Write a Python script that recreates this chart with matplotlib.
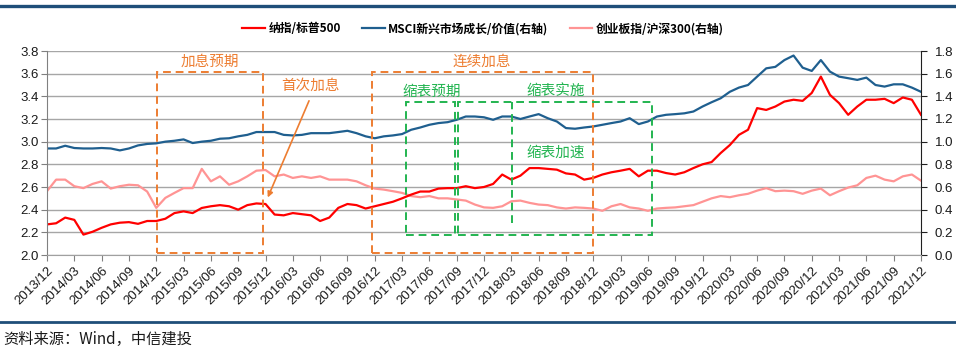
import numpy as np
import matplotlib
matplotlib.use('Agg')
import matplotlib.pyplot as plt
from matplotlib.lines import Line2D
from matplotlib.patches import Rectangle

plt.rcParams['font.family'] = ['Liberation Sans', 'Noto Sans CJK SC']

# monthly data, 2013/12 .. 2021/12 (97 points)
nasdaq_spx = [
    2.27, 2.28, 2.33, 2.31, 2.18, 2.205, 2.24, 2.27, 2.285, 2.29, 2.275, 2.30,
    2.30, 2.32, 2.37, 2.385, 2.37, 2.415, 2.43, 2.44, 2.43, 2.40, 2.44, 2.455,
    2.45, 2.357, 2.35, 2.37, 2.36, 2.35, 2.30, 2.33, 2.416, 2.45, 2.44, 2.41,
    2.43, 2.45, 2.47, 2.50, 2.533, 2.56, 2.56, 2.586, 2.59, 2.59, 2.607, 2.59,
    2.60, 2.627, 2.71, 2.665, 2.70, 2.767, 2.767, 2.76, 2.753, 2.72, 2.71, 2.665,
    2.68, 2.71, 2.73, 2.744, 2.76, 2.694, 2.744, 2.744, 2.723, 2.71, 2.73, 2.767,
    2.80, 2.82, 2.90, 2.97, 3.06, 3.105, 3.296, 3.28, 3.31, 3.354, 3.37, 3.36,
    3.43, 3.574, 3.413, 3.34, 3.237, 3.31, 3.37, 3.37, 3.378, 3.34, 3.39, 3.37,
    3.237,
]
msci_growth_value = [
    0.94, 0.94, 0.964, 0.944, 0.94, 0.94, 0.944, 0.94, 0.923, 0.94, 0.967, 0.98,
    0.985, 1.00, 1.008, 1.02, 0.988, 1.00, 1.008, 1.026, 1.03, 1.047, 1.06, 1.085,
    1.085, 1.085, 1.06, 1.055, 1.06, 1.075, 1.075, 1.075, 1.085, 1.096, 1.075, 1.047,
    1.03, 1.047, 1.055, 1.067, 1.105, 1.125, 1.149, 1.164, 1.172, 1.193, 1.222, 1.222,
    1.215, 1.193, 1.222, 1.222, 1.20, 1.222, 1.243, 1.207, 1.178, 1.12, 1.114, 1.125,
    1.134, 1.149, 1.164, 1.178, 1.207, 1.155, 1.178, 1.222, 1.237, 1.243, 1.25, 1.266,
    1.31, 1.348, 1.383, 1.44, 1.477, 1.50, 1.574, 1.647, 1.66, 1.72, 1.76, 1.653,
    1.624, 1.72, 1.618, 1.574, 1.56, 1.545, 1.565, 1.50, 1.486, 1.506, 1.506, 1.477,
    1.44,
]
chinext_hs300 = [
    0.563, 0.665, 0.665, 0.607, 0.59, 0.627, 0.65, 0.586, 0.607, 0.62, 0.615, 0.56,
    0.416, 0.504, 0.548, 0.59, 0.59, 0.76, 0.65, 0.694, 0.62, 0.65, 0.694, 0.744,
    0.75, 0.694, 0.71, 0.68, 0.694, 0.68, 0.694, 0.665, 0.665, 0.665, 0.65, 0.615,
    0.586, 0.577, 0.563, 0.548, 0.52, 0.51, 0.52, 0.50, 0.50, 0.49, 0.48, 0.445,
    0.42, 0.416, 0.43, 0.474, 0.48, 0.46, 0.445, 0.44, 0.42, 0.41, 0.42, 0.416,
    0.41, 0.39, 0.43, 0.45, 0.42, 0.41, 0.39, 0.41, 0.416, 0.42, 0.43, 0.44,
    0.47, 0.50, 0.52, 0.51, 0.527, 0.54, 0.568, 0.59, 0.563, 0.568, 0.563, 0.54,
    0.568, 0.586, 0.527, 0.563, 0.595, 0.615, 0.68, 0.70, 0.665, 0.65, 0.694, 0.71,
    0.656,
]
tick_labels = [
    '2013/12', '2014/03', '2014/06', '2014/09', '2014/12', '2015/03', '2015/06',
    '2015/09', '2015/12', '2016/03', '2016/06', '2016/09', '2016/12', '2017/03',
    '2017/06', '2017/09', '2017/12', '2018/03', '2018/06', '2018/09', '2018/12',
    '2019/03', '2019/06', '2019/09', '2019/12', '2020/03', '2020/06', '2020/09',
    '2020/12', '2021/03', '2021/06', '2021/09', '2021/12',
]
series_names = ['纳指/标普500', 'MSCI新兴市场成长/价值(右轴)', '创业板指/沪深300(右轴)']

ORANGE = '#ED7D31'
GREEN = '#22B450'
RED = '#FF0000'
BLUE = '#1F5F8F'
PINK = '#FF9494'
NAVY = '#1F4E79'

fig = plt.figure(figsize=(9.56, 3.49), dpi=100)
ax = fig.add_axes([47 / 956, 94 / 349, 874 / 956, 204 / 349])
ax2 = ax.twinx()
ax.set_zorder(ax2.get_zorder() + 1)
ax.patch.set_visible(False)

x = np.arange(len(nasdaq_spx))
l2, = ax2.plot(x, msci_growth_value, color=BLUE, lw=1.6)
l3, = ax2.plot(x, chinext_hs300, color=PINK, lw=1.6)
l1, = ax.plot(x, nasdaq_spx, color=RED, lw=1.6)

ax.set_xlim(0, 96)
ax.set_ylim(2.0, 3.8)
ax2.set_ylim(0.0, 1.8)
ax.set_yticks(np.arange(2.0, 3.81, 0.2))
ax.set_yticklabels([f'{v:.1f}' for v in np.arange(2.0, 3.81, 0.2)])
ax2.set_yticks(np.arange(0.0, 1.81, 0.2))
ax2.set_yticklabels([f'{v:.1f}' for v in np.arange(0.0, 1.81, 0.2)])
ax2.yaxis.grid(True, color='#A6A6A6', lw=1.0)
ax2.set_axisbelow(True)

ax.set_xticks(np.arange(0, 97, 3))
ax.set_xticklabels(tick_labels, rotation=45, ha='right', rotation_mode='anchor')
ax.tick_params(axis='x', length=4, color='#808080', labelsize=9.5, pad=3, labelcolor='#1a1a1a')
ax.tick_params(axis='y', length=4, color='#808080', labelsize=9.5, pad=2, labelcolor='#1a1a1a')
ax2.tick_params(axis='y', length=4, color='#202020', labelsize=9.5, pad=6, labelcolor='#1a1a1a')

for s in ['top', 'right']:
    ax.spines[s].set_visible(False)
for s in ['top', 'left', 'bottom']:
    ax2.spines[s].set_visible(False)
ax.spines['left'].set_color('#808080')
ax.spines['bottom'].set_color('#A0A0A0')
ax2.spines['right'].set_color('#202020')

# annotation boxes (x in months from 2013/12, y on left axis)
dash = (0, (4, 2.5))
boxes = [
    (12.1, 2.02, 23.7, 3.615, ORANGE),
    (35.7, 2.02, 60.0, 3.615, ORANGE),
    (39.4, 2.176, 44.8, 3.35, GREEN),
    (45.1, 2.176, 66.45, 3.35, GREEN),
]
for x0, y0, x1, y1, c in boxes:
    ax.add_patch(Rectangle((x0, y0), x1 - x0, y1 - y0, fill=False,
                           edgecolor=c, lw=1.4, linestyle=dash, zorder=6))
ax.plot([51.1, 51.1], [2.28, 3.35], color=GREEN, lw=1.4, linestyle=dash, zorder=6)

ann_font = dict(fontsize=10.5, family='Noto Sans CJK SC', ha='center', va='center', zorder=7)
ax.text(17.9, 3.705, '加息预期', color=ORANGE, **ann_font)
ax.text(47.8, 3.705, '连续加息', color=ORANGE, **ann_font)
ax.text(28.9, 3.495, '首次加息', color=ORANGE, **ann_font)
ax.text(42.2, 3.44, '缩表预期', color=GREEN, **ann_font)
ax.text(55.9, 3.45, '缩表实施', color=GREEN, **ann_font)
ax.text(55.9, 2.90, '缩表加速', color=GREEN, **ann_font)
ax.annotate('', xy=(24.13, 2.485), xytext=(28.9, 3.383),
            arrowprops=dict(arrowstyle='-|>', color=ORANGE, lw=1.2, mutation_scale=8),
            zorder=7)

fig.legend([l1, l2, l3], series_names, loc='center', bbox_to_anchor=(483 / 956, 1 - 29 / 349),
           ncol=3, frameon=False, handlelength=1.9, handletextpad=0.3, columnspacing=1.8,
           prop=dict(family='Noto Sans CJK SC', weight='bold', size=8.5))

# header / footer rules
fig.add_artist(Line2D([0, 1], [1 - 5.5 / 349] * 2, color=NAVY, lw=2.4, transform=fig.transFigure))
fig.add_artist(Line2D([0, 1], [1 - 322 / 349] * 2, color=NAVY, lw=2.0, transform=fig.transFigure))
fig.text(3 / 956, 1 - 339 / 349, '资料来源：Wind，中信建投', fontsize=11,
         family='Noto Sans CJK SC', va='center', ha='left', color='#1a1a1a')

fig.savefig('out.png', dpi=100)
